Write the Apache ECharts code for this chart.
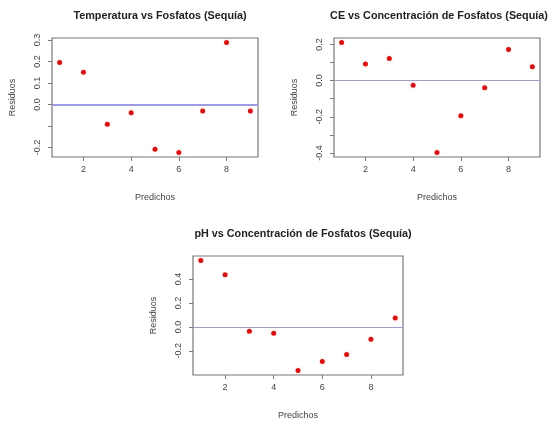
<!DOCTYPE html>
<html>
<head>
<meta charset="utf-8">
<script src="https://cdn.jsdelivr.net/npm/echarts@6/dist/echarts.min.js"></script>
<style>
  html, body { margin: 0; padding: 0; background: #fff; }
  #main { width: 548px; height: 421px; }
</style>
</head>
<body>
<div id="main"></div>
<script>
// predicted index (x) shared by the three residual plots
const predichos = [1, 2, 3, 4, 5, 6, 7, 8, 9];

const residTemp = [0.195, 0.150, -0.092, -0.039, -0.208, -0.224, -0.030, 0.289, -0.030];
const residCE = [0.211, 0.091, 0.122, -0.026, -0.398, -0.194, -0.039, 0.172, 0.076];
const residPH = [0.556, 0.437, -0.036, -0.053, -0.365, -0.288, -0.230, -0.103, 0.075];

const titles = [
  'Temperatura vs Fosfatos (Sequía)',
  'CE vs Concentración de Fosfatos (Sequía)',
  'pH vs Concentración de Fosfatos (Sequía)'
];

const xTicks = [2, 4, 6, 8];
const yTicks = [
  [-0.2, -0.1, 0.0, 0.1, 0.2, 0.3],
  [-0.4, -0.3, -0.2, -0.1, 0.0, 0.1, 0.2],
  [-0.2, 0.0, 0.2, 0.4]
];
const yLabels = [
  [-0.2, 0.0, 0.1, 0.2, 0.3],
  [-0.4, -0.2, 0.0, 0.2],
  [-0.2, 0.0, 0.2, 0.4]
];

const panels = [residTemp, residCE, residPH];

// R-style range: data range padded by 4%
function rRange(v) {
  const lo = Math.min(...v), hi = Math.max(...v);
  const pad = (hi - lo) * 0.04;
  return [lo - pad, hi + pad];
}

const grids = [
  { left: 52, top: 38, width: 206, height: 119 },
  { left: 334, top: 38, width: 206, height: 119 },
  { left: 193, top: 256, width: 210, height: 121 }
];
const zeroWidth = [2, 1, 1];
const titleShift = [0, -3, 0];

const font = 'Liberation Sans, Arial, sans-serif';
const xr = rRange(predichos);

const option = {
  backgroundColor: '#fff',
  animation: false,
  title: grids.map((g, i) => ({
    text: titles[i],
    left: g.left + g.width / 2 + titleShift[i],
    top: g.top - 32,
    textAlign: 'center',
    textStyle: { fontFamily: font, fontSize: 10.8, fontWeight: 'bold', color: '#222' }
  })),
  grid: grids.map(g => Object.assign({ show: true, borderColor: '#777', borderWidth: 1.2, backgroundColor: 'transparent' }, g)),
  xAxis: grids.map((g, i) => ({
    type: 'value',
    gridIndex: i,
    min: xr[0],
    max: xr[1],
    name: 'Predichos',
    nameLocation: 'middle',
    nameGap: 36,
    nameTextStyle: { fontFamily: font, fontSize: 9, color: '#444' },
    axisLine: { show: false, onZero: false },
    splitLine: { show: false },
    axisTick: { show: true, length: 4, customValues: xTicks, lineStyle: { color: '#777' } },
    axisLabel: { customValues: xTicks, margin: 8, fontFamily: font, fontSize: 9, color: '#444' }
  })),
  yAxis: grids.map((g, i) => {
    const yr = rRange(panels[i]);
    return {
      type: 'value',
      gridIndex: i,
      min: yr[0],
      max: yr[1],
      name: 'Residuos',
      nameLocation: 'middle',
      nameGap: 35,
      nameRotate: 90,
      nameTextStyle: { fontFamily: font, fontSize: 9, color: '#444' },
      axisLine: { show: false, onZero: false },
      splitLine: { show: false },
      axisTick: { show: true, length: 4, customValues: yTicks[i], lineStyle: { color: '#777' } },
      axisLabel: {
        customValues: yLabels[i],
        rotate: 90,
        margin: 10,
        fontFamily: font,
        fontSize: 9,
        color: '#444',
        formatter: v => v.toFixed(1)
      }
    };
  }),
  series: panels.map((vals, i) => ({
    type: 'scatter',
    xAxisIndex: i,
    yAxisIndex: i,
    symbol: 'circle',
    symbolSize: 5,
    itemStyle: { color: '#ff0000', opacity: 1 },
    data: predichos.map((x, k) => [x, vals[k]]),
    markLine: {
      silent: true,
      symbol: 'none',
      label: { show: false },
      lineStyle: { color: '#9a9af6', width: zeroWidth[i], type: 'solid' },
      data: [{ yAxis: 0 }]
    }
  }))
};

echarts.init(document.getElementById('main')).setOption(option);
</script>
</body>
</html>
